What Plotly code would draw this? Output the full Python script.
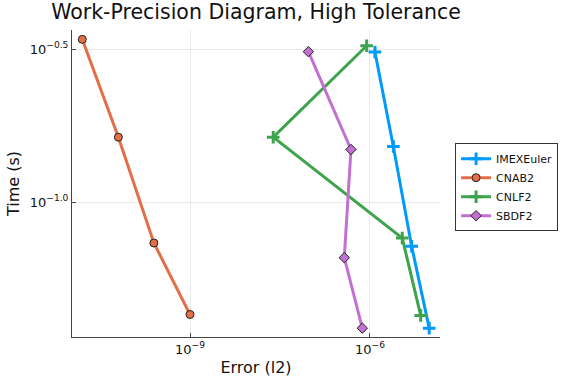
import plotly.graph_objects as go

names = ["IMEXEuler", "CNAB2", "CNLF2", "SBDF2"]
errors = {
    "IMEXEuler": [1.21e-6, 2.45e-6, 4.95e-6, 9.7e-6],
    "CNAB2": [1.6e-11, 6.4e-11, 2.5e-10, 1.0e-9],
    "CNLF2": [8.8e-7, 2.44e-8, 3.45e-6, 7.0e-6],
    "SBDF2": [9.4e-8, 4.82e-7, 3.73e-7, 7.45e-7],
}
times = {
    "IMEXEuler": [0.309, 0.152, 0.0718, 0.0388],
    "CNAB2": [0.340, 0.163, 0.0736, 0.043],
    "CNLF2": [0.324, 0.163, 0.0764, 0.0427],
    "SBDF2": [0.310, 0.1486, 0.0659, 0.0388],
}
colors = {"IMEXEuler": "#009AFA", "CNAB2": "#E26F46", "CNLF2": "#3DA44D", "SBDF2": "#C271D2"}
symbols = {"IMEXEuler": "cross-thin", "CNAB2": "circle", "CNLF2": "cross-thin", "SBDF2": "diamond"}

x_tickvals = [1e-9, 1e-6]
x_ticktext = ["10<sup>−9</sup>", "10<sup>−6</sup>"]
y_tickvals = [10 ** -0.5, 10 ** -1.0]
y_ticktext = ["10<sup>−0.5</sup>", "10<sup>−1.0</sup>"]

fig = go.Figure()
for n in names:
    outlined = symbols[n] in ("circle", "diamond")
    if outlined:
        marker = dict(symbol=symbols[n], size=8, color=colors[n],
                      line=dict(color="#222222", width=1))
    else:
        marker = dict(symbol=symbols[n], size=9, color=colors[n],
                      line=dict(color=colors[n], width=3))
    fig.add_trace(go.Scatter(
        x=errors[n], y=times[n], name=n, mode="lines+markers",
        line=dict(color=colors[n], width=3), marker=marker,
    ))

axis_common = dict(
    type="log", showline=True, linecolor="#444444", linewidth=1, mirror=False,
    ticks="inside", ticklen=4, tickcolor="#444444", showgrid=True,
    gridcolor="rgba(0,0,0,0.08)", gridwidth=1, zeroline=False, automargin=False,
    tickfont=dict(size=13, color="#111111"),
)

fig.update_layout(
    width=576, height=384,
    paper_bgcolor="white", plot_bgcolor="white",
    font=dict(family="DejaVu Sans", color="#111111"),
    margin=dict(l=72, r=136, t=30, b=47, autoexpand=False),
    title=dict(text="Work-Precision Diagram, High Tolerance", x=0.5, xref="paper",
               xanchor="center", y=1 - 12 / 384, yref="container", yanchor="middle",
               font=dict(size=20.5)),
    xaxis=dict(axis_common, range=[-10.967, -4.833], tickvals=x_tickvals, ticktext=x_ticktext,
               title=dict(text="Error (l2)", font=dict(size=16), standoff=6)),
    yaxis=dict(axis_common, range=[-1.44, -0.438], tickvals=y_tickvals, ticktext=y_ticktext,
               title=dict(text="Time (s)", font=dict(size=16), standoff=6)),
    legend=dict(x=1.041, y=0.488, xanchor="left", yanchor="middle",
                bordercolor="#333333", borderwidth=1, font=dict(size=11),
                tracegroupgap=0),
    showlegend=True,
)

fig.write_html("out.html", config={"displayModeBar": False},
               post_script="document.body.style.margin='0';")
